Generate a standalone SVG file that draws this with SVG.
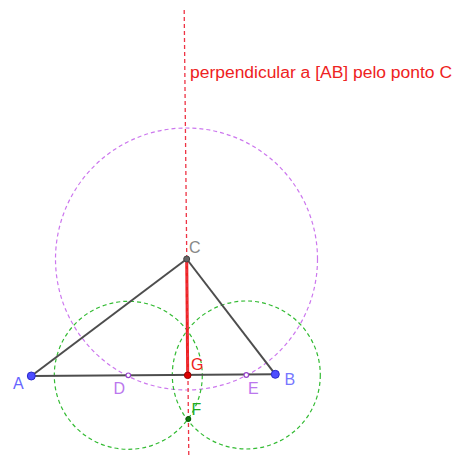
<svg xmlns="http://www.w3.org/2000/svg" width="453" height="457" viewBox="0 0 453 457">
<style>
.lbl{font-family:"Liberation Sans",Arial,sans-serif;font-size:16px}
.circG{fill:none;stroke:#33bb33;stroke-width:1.2;stroke-dasharray:4 3}
.circP{fill:none;stroke:#cc77ee;stroke-width:1.2;stroke-dasharray:4 3}
.side{stroke:#4d4d4d;stroke-width:2;fill:none}
</style>
<rect width="453" height="457" fill="#ffffff"/>
<g id="circles">
<circle class="circP" cx="186.5" cy="259" r="131"/>
<circle class="circG" cx="128.3" cy="375.3" r="74"/>
<circle class="circG" cx="246.3" cy="375" r="74"/>
</g>
<g id="connectors">
<line class="side" x1="31.3" y1="376" x2="275.3" y2="374.3"/>
<line class="side" x1="31.3" y1="376" x2="186.7" y2="259"/>
<line class="side" x1="186.7" y1="259" x2="275.3" y2="374.3"/>
<line x1="186.7" y1="259" x2="187.7" y2="375.3" stroke="#ee2222" stroke-width="3"/>
<line x1="184.2" y1="10" x2="188.8" y2="457" stroke="#ee3344" stroke-width="1.3" stroke-dasharray="4 3"/>
</g>
<g id="label-perp"><text x="190" y="77.5" class="lbl" fill="#ee2222" textLength="262" lengthAdjust="spacingAndGlyphs">perpendicular a [AB] pelo ponto C</text></g>
<g id="A"><circle cx="31.3" cy="376" r="4" fill="#4d4dff" stroke="#2a2acc" stroke-width="1"/><text x="13" y="388.5" class="lbl" fill="#6666ff">A</text></g>
<g id="B"><circle cx="275.3" cy="374.3" r="4" fill="#4d4dff" stroke="#2a2acc" stroke-width="1"/><text x="284.5" y="384.5" class="lbl" fill="#7777ff">B</text></g>
<g id="C"><circle cx="186.7" cy="259" r="3" fill="#666666" stroke="#444" stroke-width="1"/><text x="189" y="253" class="lbl" fill="#888888">C</text></g>
<g id="D"><circle cx="128.3" cy="375.3" r="2.3" fill="#ffffff" stroke="#9944cc" stroke-width="1.2"/><text x="113.5" y="393.5" class="lbl" fill="#bb77ee">D</text></g>
<g id="E"><circle cx="246.3" cy="375" r="2.3" fill="#ffffff" stroke="#9944cc" stroke-width="1.2"/><text x="248" y="393.5" class="lbl" fill="#bb77ee">E</text></g>
<g id="G"><circle cx="187.7" cy="375.3" r="3.3" fill="#dd0000" stroke="#990000" stroke-width="1"/><text x="191" y="370" class="lbl" fill="#ee2222">G</text></g>
<g id="F"><circle cx="188.3" cy="419" r="2.5" fill="#117711" stroke="#005500" stroke-width="1"/><text x="191.5" y="414.5" class="lbl" fill="#22aa22">F</text></g>
</svg>
